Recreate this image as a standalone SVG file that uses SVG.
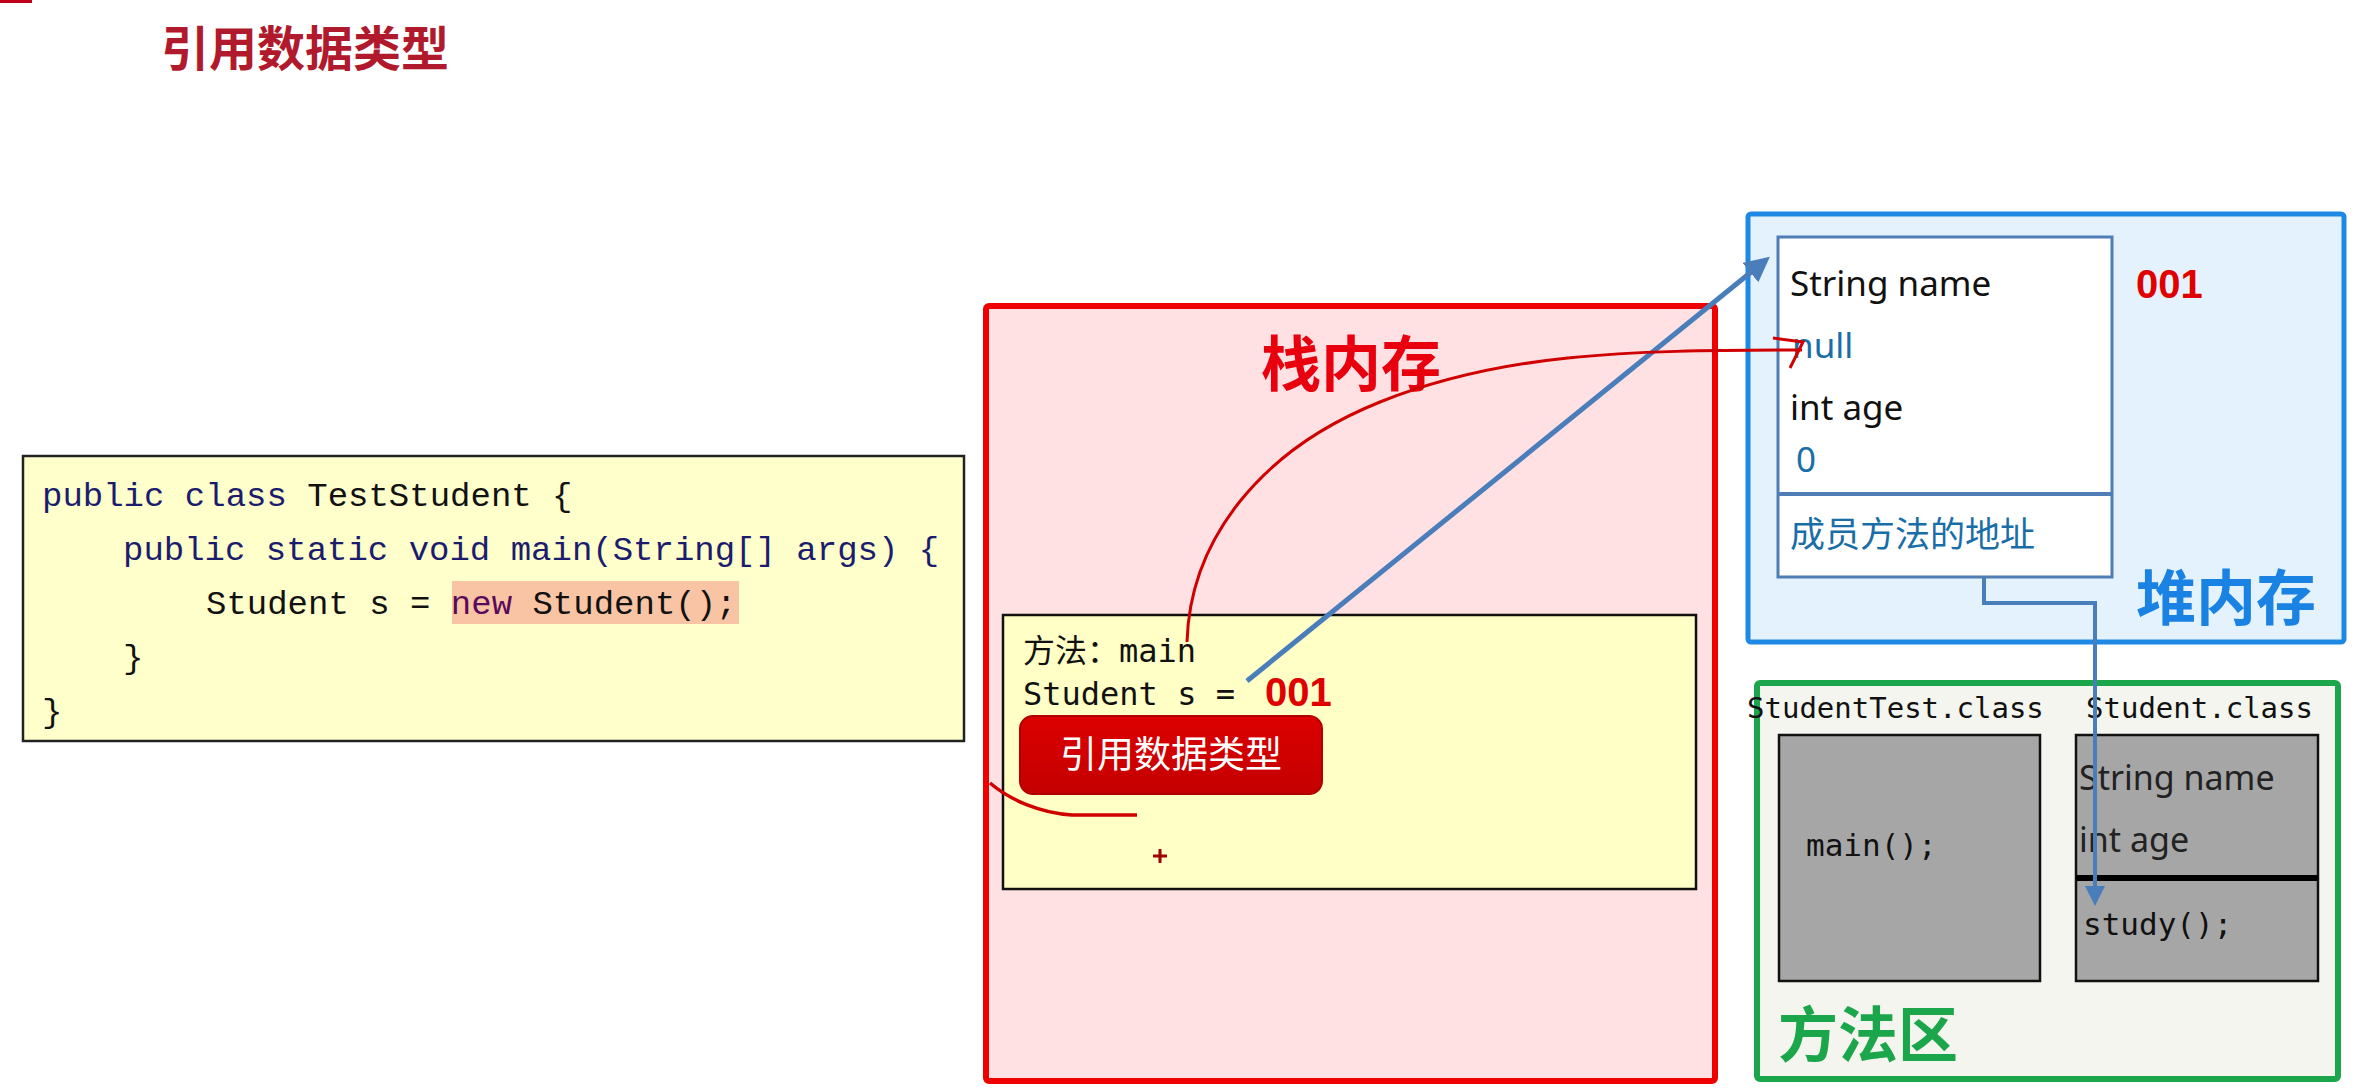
<svg xmlns="http://www.w3.org/2000/svg" width="2362" height="1090" viewBox="0 0 2362 1090">
<style>
.mono{font-family:"Liberation Mono","DejaVu Sans Mono","Noto Sans CJK SC",monospace}
.dmono{font-family:"DejaVu Sans Mono","Noto Sans CJK SC",monospace}
.sans{font-family:"Noto Sans","Open Sans","Noto Sans CJK SC",sans-serif}
.cjk{font-family:"Noto Sans CJK SC","Noto Sans",sans-serif}
.code{font-size:34px;fill:#111}
.kw{fill:#1c1c6e}
.heap{font-size:35px;fill:#111}
.val{fill:#1a6ea8}
.big{font-weight:bold;font-size:60px}
.addr{font-weight:bold;font-size:40px;fill:#e00000;font-family:"Liberation Sans","Noto Sans",sans-serif}
</style>
<defs>
<marker id="blueArrow" viewBox="0 0 10 10" refX="8" refY="5" markerWidth="5" markerHeight="5" orient="auto">
<path d="M0 0 L10 5 L0 10 z" fill="#4a7ebb"/>
</marker>
<linearGradient id="btn" x1="0" y1="0" x2="0" y2="1">
<stop offset="0" stop-color="#dc0000"/>
<stop offset="1" stop-color="#c40000"/>
</linearGradient>
</defs>
<rect width="2362" height="1090" fill="#ffffff"/>

<g id="title">
<rect x="0" y="0" width="32" height="3" fill="#c0001a"/>
<text x="161" y="66" class="cjk" font-size="48" font-weight="bold" fill="#b01a2c">引用数据类型</text>
</g>

<g id="code-box">
<rect x="23" y="456" width="941" height="285" fill="#ffffcc" stroke="#222" stroke-width="2.5"/>
<rect x="452" y="581" width="287" height="43" fill="#f9c4a4"/>
<text class="mono code" x="42" y="506"><tspan class="kw">public class</tspan> TestStudent {</text>
<text class="mono code" x="123" y="560"><tspan class="kw">public static void</tspan> <tspan class="kw">main(String[] args) {</tspan></text>
<text class="mono code" x="206" y="614">Student s = <tspan fill="#5a0a5a">new</tspan> Student();</text>
<text class="mono code" x="123" y="668">}</text>
<text class="mono code" x="42" y="722">}</text>
</g>

<g id="stack">
<rect x="986" y="306" width="729" height="775" fill="#ffe1e4" stroke="#ee0000" stroke-width="6" rx="3"/>
<text x="1351" y="386" text-anchor="middle" class="cjk big" fill="#e8000e">栈内存</text>
</g>

<g id="main-frame">
<rect x="1003" y="615" width="693" height="274" fill="#ffffc6" stroke="#111" stroke-width="2.5"/>
<text class="dmono" x="1023" y="662" font-size="32" fill="#111">方法：main</text>
<text class="dmono" x="1023" y="705" font-size="32" fill="#111">Student s =</text>
<text class="addr" x="1265" y="706">001</text>
<rect x="1020" y="716" width="302" height="78" rx="13" fill="url(#btn)" stroke="#b00000" stroke-width="2"/>
<text x="1171" y="768" text-anchor="middle" class="cjk" font-size="37" fill="#ffffff">引用数据类型</text>
<path d="M1160 849 v14 M1153 856 h14" stroke="#a00000" stroke-width="3"/>
</g>

<g id="heap">
<rect x="1748" y="214" width="596" height="428" fill="#e3f2fd" stroke="#1e88e5" stroke-width="5" rx="3"/>
<text x="2316" y="620" text-anchor="end" class="cjk big" fill="#1a82e2">堆内存</text>
<text class="addr" x="2136" y="298">001</text>
</g>

<g id="student-object">
<rect x="1778" y="237" width="334" height="340" fill="#ffffff" stroke="#4f7db5" stroke-width="3"/>
<line x1="1778" y1="494" x2="2112" y2="494" stroke="#4f7db5" stroke-width="4"/>
<text class="sans heap" x="1790" y="296">String name</text>
<text class="sans heap val" x="1792" y="358">null</text>
<text class="sans heap" x="1790" y="420">int age</text>
<text class="sans heap val" x="1796" y="472">0</text>
<text class="cjk heap val" x="1790" y="547" font-size="34">成员方法的地址</text>
</g>

<g id="method-area">
<rect x="1757" y="683" width="581" height="396" fill="#f5f5ef" stroke="#1ca64c" stroke-width="6" rx="3"/>
<text x="1778" y="1057" class="cjk big" font-size="58" fill="#1ca64c">方法区</text>
<text class="dmono" x="1747" y="718" font-size="29" fill="#111">StudentTest.class</text>
<text class="dmono" x="2086" y="718" font-size="29" fill="#111">Student.class</text>
</g>

<g id="studenttest-class">
<rect x="1779" y="735" width="261" height="246" fill="#a6a6a6" stroke="#111" stroke-width="2.5"/>
<text class="dmono" x="1806" y="856" font-size="31" fill="#111">main();</text>
</g>

<g id="student-class">
<rect x="2076" y="735" width="242" height="246" fill="#a6a6a6" stroke="#111" stroke-width="2.5"/>
<line x1="2076" y1="878" x2="2318" y2="878" stroke="#000" stroke-width="6"/>
<text class="sans" x="2079" y="790" font-size="34" fill="#222">String name</text>
<text class="sans" x="2079" y="852" font-size="34" fill="#222">int age</text>
<text class="dmono" x="2083" y="935" font-size="31" fill="#111">study();</text>
</g>

<g id="connectors" fill="none">
<path d="M1247 681 L1766 260" stroke="#4a7ebb" stroke-width="5" marker-end="url(#blueArrow)"/>
<path d="M1984 577 V603 H2095 V902" stroke="#4a7ebb" stroke-width="4" marker-end="url(#blueArrow)"/>
<path d="M1187 642 C1190 540, 1260 450, 1380 402 S1620 350, 1802 350" stroke="#d00000" stroke-width="3"/>
<path d="M1773 338 L1803 342 L1790 368" stroke="#d00000" stroke-width="3"/>
<path d="M990 783 C1010 800, 1040 813, 1072 815 L1137 815" stroke="#d00000" stroke-width="3.5"/>
</g>
</svg>
